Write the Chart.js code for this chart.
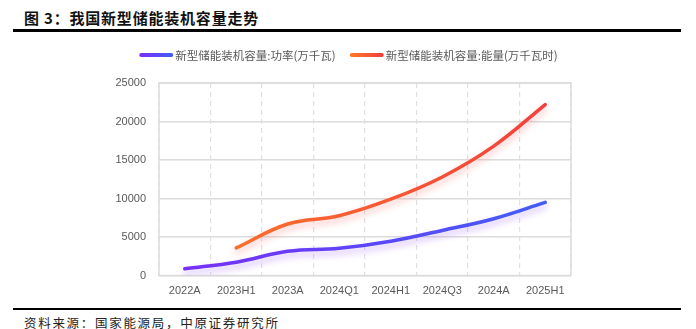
<!DOCTYPE html>
<html>
<head>
<meta charset="utf-8">
<script src="https://cdn.jsdelivr.net/npm/chart.js@4/dist/chart.umd.min.js"></script>
<style>
  html, body { margin: 0; padding: 0; background: #fff; }
  body { width: 696px; height: 329px; position: relative; overflow: hidden; }
  .title {
    position: absolute; left: 24px; top: 7px;
    font: bold 15px "Noto Sans CJK SC", sans-serif; color: #111; letter-spacing: 0.8px;
    white-space: nowrap;
  }
  .rule-top { position: absolute; left: 13px; top: 29px; width: 668px; height: 2.5px; background: #000; }
  .rule-bottom { position: absolute; left: 13px; top: 307.5px; width: 668px; height: 2.5px; background: #000; }
  .source {
    position: absolute; left: 24px; top: 313px;
    font: 12.5px "Noto Sans CJK SC", sans-serif; color: #222; letter-spacing: 1.7px;
    white-space: nowrap;
  }
  .chart-box { position: absolute; left: 0; top: 38px; width: 696px; height: 268px; }
</style>
</head>
<body>
<div class="title">图 3：我国新型储能装机容量走势</div>
<div class="rule-top"></div>
<div class="chart-box"><canvas id="c"></canvas></div>
<div class="rule-bottom"></div>
<div class="source">资料来源：国家能源局，中原证券研究所</div>
<script>
// Periods and cumulative installed capacity of new-type energy storage
const categories = ['2022A', '2023H1', '2023A', '2024Q1', '2024H1', '2024Q3', '2024A', '2025H1'];
const powerValues = [870, 1733, 3139, 3530, 4444, 5852, 7376, 9491];          // 万千瓦
const energyValues = [null, 3580, 6687, 7768, 9906, 12800, 16800, 22200];     // 万千瓦时
const yTicks = [0, 5000, 10000, 15000, 20000, 25000];
const seriesNames = ['新型储能装机容量:功率(万千瓦)', '新型储能装机容量:能量(万千瓦时)'];

const powerStops = ['#7a2cf6', '#3f5ff7'];
const energyStops = ['#ff7a28', '#f23c3e'];
const shadowColors = ['rgba(140, 70, 255, 0.40)', 'rgba(245, 70, 60, 0.35)'];

function lineGradient(ctx, area, stops) {
  const g = ctx.createLinearGradient(area.left, 0, area.right, 0);
  g.addColorStop(0, stops[0]);
  g.addColorStop(1, stops[1]);
  return g;
}

const TEXT = '#595959';
const GRID = '#dcdcdc';
const VGRID = '#e0e0e0';

// soft glow beneath each line
const glowPlugin = {
  id: 'glow',
  beforeDatasetDraw(chart, args) {
    const ctx = chart.ctx;
    ctx.save();
    ctx.shadowColor = shadowColors[args.index];
    ctx.shadowBlur = 7;
    ctx.shadowOffsetY = 4;
  },
  afterDatasetDraw(chart) {
    chart.ctx.restore();
  }
};

// solid frame around the plot area
const framePlugin = {
  id: 'frame',
  beforeDatasetsDraw(chart) {
    const { ctx, chartArea: a } = chart;
    ctx.save();
    ctx.strokeStyle = GRID;
    ctx.lineWidth = 1.5;
    ctx.strokeRect(a.left, a.top, a.right - a.left, a.bottom - a.top);
    ctx.restore();
  }
};

// legend with gradient line swatches, centred above the plot
const legendPlugin = {
  id: 'gradLegend',
  afterDraw(chart) {
    const { ctx } = chart;
    const stops = [powerStops, energyStops];
    ctx.save();
    ctx.font = '11.5px "Noto Sans CJK SC", sans-serif';
    ctx.textBaseline = 'middle';
    const sw = 34, gap = 2, between = 14;
    const widths = seriesNames.map(n => ctx.measureText(n).width);
    const total = widths.reduce((s, w) => s + sw + gap + w, 0) + between;
    let x = 348.5 - total / 2;
    const y = 17;
    seriesNames.forEach((name, i) => {
      const g = ctx.createLinearGradient(x, 0, x + sw, 0);
      g.addColorStop(0, stops[i][0]);
      g.addColorStop(1, stops[i][1]);
      ctx.strokeStyle = g;
      ctx.lineWidth = 4;
      ctx.lineCap = 'round';
      ctx.beginPath();
      ctx.moveTo(x + 2, y);
      ctx.lineTo(x + sw - 2, y);
      ctx.stroke();
      ctx.fillStyle = TEXT;
      ctx.fillText(name, x + sw + gap, y + 0.5);
      x += sw + gap + widths[i] + between;
    });
    ctx.restore();
  }
};

new Chart(document.getElementById('c'), {
  type: 'line',
  data: {
    labels: categories,
    datasets: [
      {
        label: seriesNames[0],
        data: powerValues,
        borderColor: c => c.chart.chartArea ? lineGradient(c.chart.ctx, c.chart.chartArea, powerStops) : powerStops[0],
        borderWidth: 3.5,
        borderCapStyle: 'round',
        pointRadius: 0,
        pointHoverRadius: 0,
        tension: 0.4,
        fill: false
      },
      {
        label: seriesNames[1],
        data: energyValues,
        borderColor: c => c.chart.chartArea ? lineGradient(c.chart.ctx, c.chart.chartArea, energyStops) : energyStops[0],
        borderWidth: 3.5,
        borderCapStyle: 'round',
        pointRadius: 0,
        pointHoverRadius: 0,
        tension: 0.4,
        fill: false
      }
    ]
  },
  options: {
    responsive: true,
    maintainAspectRatio: false,
    animation: false,
    layout: { padding: { left: 100, right: 125, top: 45, bottom: 0 } },
    plugins: {
      legend: { display: false },
      tooltip: { enabled: false }
    },
    scales: {
      x: {
        offset: true,
        grid: {
          offset: true,
          color: VGRID,
          lineWidth: 1.2,
          drawTicks: false
        },
        border: { display: false, dash: [5, 4] },
        ticks: {
          color: TEXT,
          font: { family: 'Liberation Sans, Arial, sans-serif', size: 11 },
          padding: 9,
          maxRotation: 0,
          autoSkip: false
        },
        afterFit(scale) { scale.height = 30.5; }
      },
      y: {
        min: 0,
        max: 25000,
        afterBuildTicks(scale) { scale.ticks = yTicks.map(v => ({ value: v })); },
        grid: { color: GRID, lineWidth: 1.5, drawTicks: false },
        border: { display: false },
        ticks: {
          color: TEXT,
          font: { family: 'Liberation Sans, Arial, sans-serif', size: 11 },
          padding: 13,
          callback: v => String(v)
        },
        afterFit(scale) { scale.width = 59; }
      }
    }
  },
  plugins: [framePlugin, glowPlugin, legendPlugin]
});
</script>
</body>
</html>
